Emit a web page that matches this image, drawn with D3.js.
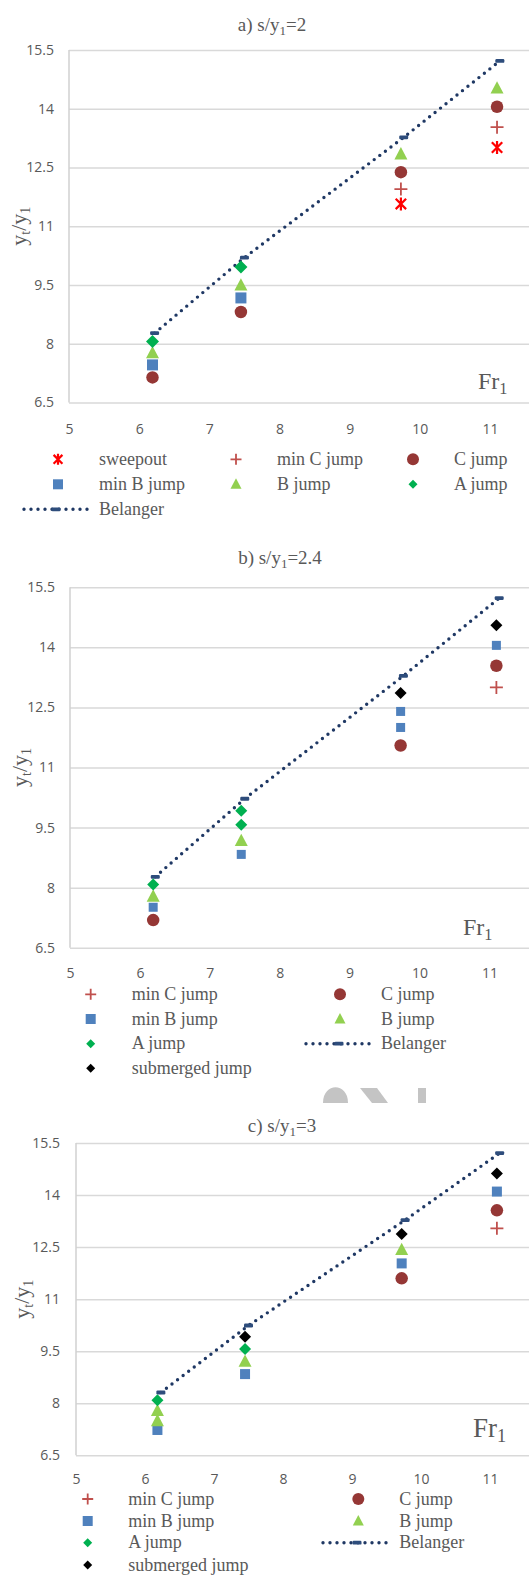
<!DOCTYPE html>
<html>
<head>
<meta charset="utf-8">
<script src="https://cdn.jsdelivr.net/npm/d3@7"></script>
<style>
	body { margin: 0; background: #fff; }
	svg { display: block; }
	.tick-label { font-family: "Open Sans", sans-serif; font-size: 14px; fill: #595959; }
	.serif { font-family: "Liberation Serif", "Times New Roman", serif; fill: #595959; }
</style>
</head>
<body>
<div id="chart"></div>
<script>
// Axis ticks shared by all three panels
const xTicks = [5, 6, 7, 8, 9, 10, 11];
const yTicks = [6.5, 8, 9.5, 11, 12.5, 14, 15.5];

// Panel a) s/y1=2   -- [Fr1, yt/y1]
const aSweepout = [[9.73, 11.57], [11.1, 13.01]];
const aMinC = [[9.73, 11.95], [11.1, 13.53]];
const aC = [[6.19, 7.14], [7.45, 8.81], [9.73, 12.38], [11.1, 14.05]];
const aMinB = [[6.19, 7.46], [7.45, 9.17]];
const aB = [[6.19, 7.76], [7.45, 9.49], [9.73, 12.84], [11.1, 14.52]];
const aA = [[6.19, 8.06], [7.45, 9.96]];
const aBelanger = [[6.22, 8.27], [7.5, 10.2], [9.77, 13.27], [11.14, 15.22]];

// Panel b) s/y1=2.4
const bMinC = [[11.1, 13.0]];
const bC = [[6.19, 7.19], [9.73, 11.55], [11.1, 13.54]];
const bMinB = [[6.19, 7.51], [7.45, 8.83], [9.73, 12.4], [9.73, 12.0], [11.1, 14.05]];
const bB = [[6.19, 7.78], [7.45, 9.17]];
const bA = [[6.19, 8.08], [7.45, 9.92], [7.45, 9.57]];
const bBelanger = [[6.22, 8.27], [7.5, 10.22], [9.77, 13.29], [11.14, 15.23]];
const bSubmerged = [[9.73, 12.86], [11.1, 14.55]];

// Panel c) s/y1=3
const cMinC = [[11.1, 13.04]];
const cC = [[9.72, 11.6], [11.1, 13.56]];
const cMinB = [[6.18, 7.23], [7.45, 8.84], [9.72, 12.03], [11.1, 14.1]];
const cB = [[6.18, 7.78], [6.18, 7.49], [7.45, 9.2], [9.72, 12.42]];
const cA = [[6.18, 8.09], [7.45, 9.56]];
const cBelanger = [[6.23, 8.31], [7.5, 10.24], [9.77, 13.28], [11.14, 15.21]];
const cSubmerged = [[7.45, 9.92], [9.72, 12.88], [11.1, 14.62]];

const W = 529, H = 1580;
const SERIF = '"Liberation Serif", "Times New Roman", serif';

const styles = {
	sweepout: {name: 'sweepout', color: '#ff0000', shape: 'star'},
	minC: {name: 'min C jump', color: '#c0504d', shape: 'plus'},
	C: {name: 'C jump', color: '#953735', shape: 'circle'},
	minB: {name: 'min B jump', color: '#4f81bd', shape: 'square'},
	B: {name: 'B jump', color: '#92d050', shape: 'triangle'},
	A: {name: 'A jump', color: '#00b050', shape: 'diamond'},
	belanger: {name: 'Belanger', color: '#1f3864', shape: 'dash'},
	submerged: {name: 'submerged jump', color: '#000000', shape: 'diamond'}
};

const panels = [
	{
		title: ['a) s/y', '1', '=2'],
		left: 69, top: 50, bottom: 402.5, xUnit: 70.17,
		titleX: 272, titleY: 31, yLabelX: 19, tickRight: 54, xLabelY: 430,
		frX: 478, frY: 389, frSize: 24, sq: 11, dia: 13,
		series: [
			['belanger', aBelanger], ['C', aC], ['minB', aMinB], ['B', aB],
			['A', aA], ['minC', aMinC], ['sweepout', aSweepout]
		],
		legend: {
			rows: [459.3, 484.3, 509.3],
			items: [
				['sweepout', 0, 0, 58, 99], ['minC', 0, 1, 236, 277], ['C', 0, 2, 413, 454],
				['minB', 1, 0, 58, 99], ['B', 1, 1, 236, 277], ['A', 1, 2, 413, 454],
				['belanger', 2, 0, 56, 99]
			],
			lineFrom: 24, lineTo: 89
		}
	},
	{
		title: ['b) s/y', '1', '=2.4'],
		left: 70, top: 587.3, bottom: 947.7, xUnit: 69.9,
		titleX: 280, titleY: 564, yLabelX: 20, tickRight: 55, xLabelY: 974,
		frX: 463, frY: 935, frSize: 24, sq: 9, dia: 12,
		series: [
			['belanger', bBelanger], ['C', bC], ['minB', bMinB], ['B', bB],
			['A', bA], ['minC', bMinC], ['submerged', bSubmerged]
		],
		legend: {
			rows: [994.3, 1019, 1043.7, 1068.3],
			items: [
				['minC', 0, 0, 90.7, 131.7], ['C', 0, 1, 340, 381],
				['minB', 1, 0, 90.7, 131.7], ['B', 1, 1, 340, 381],
				['A', 2, 0, 90.7, 131.7], ['belanger', 2, 1, 339, 381],
				['submerged', 3, 0, 90.7, 131.7]
			],
			lineFrom: 306, lineTo: 371.7
		}
	},
	{
		title: ['c) s/y', '1', '=3'],
		left: 76, top: 1143, bottom: 1455.3, xUnit: 69,
		titleX: 282, titleY: 1132, yLabelX: 22, tickRight: 60, xLabelY: 1480,
		frX: 473, frY: 1437, frSize: 27, sq: 10, dia: 12,
		series: [
			['belanger', cBelanger], ['C', cC], ['minB', cMinB], ['B', cB],
			['A', cA], ['minC', cMinC], ['submerged', cSubmerged]
		],
		legend: {
			rows: [1499, 1521, 1542.7, 1565],
			items: [
				['minC', 0, 0, 87.7, 128.3], ['C', 0, 1, 358.3, 399.3],
				['minB', 1, 0, 87.7, 128.3], ['B', 1, 1, 358.3, 399.3],
				['A', 2, 0, 87.7, 128.3], ['belanger', 2, 1, 357, 399.3],
				['submerged', 3, 0, 87.7, 128.3]
			],
			lineFrom: 323, lineTo: 390
		}
	}
];

// draw one marker shape centred on 0,0
function drawMarker(g, key, size) {
	const st = styles[key];
	const s = size;
	if (st.shape === 'circle') {
		g.append('circle').attr('r', s / 2).attr('fill', st.color);
	} else if (st.shape === 'square') {
		g.append('rect').attr('x', -s / 2).attr('y', -s / 2).attr('width', s).attr('height', s).attr('fill', st.color);
	} else if (st.shape === 'triangle') {
		g.append('path').attr('d', `M0,${-s * 0.55}L${s / 2},${s * 0.4}L${-s / 2},${s * 0.4}Z`).attr('fill', st.color);
	} else if (st.shape === 'diamond') {
		g.append('path').attr('d', `M0,${-s / 2}L${s / 2},0L0,${s / 2}L${-s / 2},0Z`).attr('fill', st.color);
	} else if (st.shape === 'plus') {
		g.append('path').attr('d', `M${-s / 2},0H${s / 2}M0,${-s / 2}V${s / 2}`)
			.attr('stroke', st.color).attr('stroke-width', 1.8).attr('fill', 'none');
	} else if (st.shape === 'star') {
		const h = s / 2;
		g.append('path').attr('d', `M${-h * 0.8},${-h * 0.8}L${h * 0.8},${h * 0.8}M${h * 0.8},${-h * 0.8}L${-h * 0.8},${h * 0.8}M0,${-h}V${h}`)
			.attr('stroke', st.color).attr('stroke-width', 2.2).attr('fill', 'none');
	} else if (st.shape === 'dash') {
		g.append('rect').attr('x', -4.5).attr('y', -1.9).attr('width', 9).attr('height', 3.8)
			.attr('rx', 1.2).attr('fill', '#2e4d7c');
	}
}

function markerSize(key, p) {
	if (key === 'minB') return p.sq;
	if (key === 'A' || key === 'submerged') return p.dia;
	if (key === 'C') return 12.5;
	return 13;
}

function legendSize(key, p) {
	if (key === 'minB') return 10;
	if (key === 'A' || key === 'submerged') return 9;
	if (key === 'C') return 12;
	return 11;
}

// dotted Belanger stroke
function dotted(sel) {
	sel.attr('fill', 'none')
		.attr('stroke', styles.belanger.color)
		.attr('stroke-width', 3.4)
		.attr('stroke-linecap', 'round')
		.attr('stroke-dasharray', '0 7');
}

const svg = d3.select('#chart').append('svg')
	.attr('width', W)
	.attr('height', H);

function drawPanel(p) {
	const x = d3.scaleLinear().domain([5, 12]).range([p.left, p.left + 7 * p.xUnit]);
	const y = d3.scaleLinear().domain([6.5, 15.5]).range([p.bottom, p.top]);
	const g = svg.append('g');

	// gridlines
	g.append('g')
		.attr('transform', `translate(${p.left},0)`)
		.call(d3.axisLeft(y).tickValues(yTicks).tickSize(-(W - p.left)).tickFormat(''))
		.call(s => s.select('.domain').remove())
		.call(s => s.selectAll('line').attr('stroke', '#d9d9d9').attr('stroke-width', 1.5));

	// left axis line
	g.append('line')
		.attr('x1', p.left).attr('x2', p.left)
		.attr('y1', y(15.5)).attr('y2', y(6.5))
		.attr('stroke', '#d0d0d0').attr('stroke-width', 1.5);

	// y tick labels
	g.append('g')
		.attr('transform', `translate(${p.tickRight},0)`)
		.call(d3.axisLeft(y).tickValues(yTicks).tickSize(0).tickPadding(0).tickFormat(d3.format('')))
		.call(s => s.select('.domain').remove())
		.call(s => s.selectAll('text').attr('class', 'tick-label').attr('font-size', null).attr('font-family', null));

	// x tick labels
	g.append('g')
		.attr('transform', `translate(0,${p.xLabelY})`)
		.call(d3.axisBottom(x).tickValues(xTicks).tickSize(0).tickPadding(0).tickFormat(d3.format('d')))
		.call(s => s.select('.domain').remove())
		.call(s => s.selectAll('text').attr('class', 'tick-label').attr('dy', '0.32em').attr('font-size', null).attr('font-family', null));

	// title
	const t = g.append('text').attr('class', 'serif').attr('x', p.titleX).attr('y', p.titleY)
		.attr('text-anchor', 'middle').style('font-family', SERIF).style('font-size', '19px');
	t.append('tspan').text(p.title[0]);
	t.append('tspan').attr('dy', 4).style('font-size', '13px').text(p.title[1]);
	t.append('tspan').attr('dy', -4).text(p.title[2]);

	// y label
	const cy = (p.top + p.bottom) / 2;
	const yl = g.append('text').attr('class', 'serif')
		.attr('transform', `translate(${p.yLabelX + 7},${cy}) rotate(-90)`)
		.attr('text-anchor', 'middle').style('font-family', SERIF).style('font-size', '22px');
	yl.append('tspan').text('y');
	yl.append('tspan').attr('dy', 4).style('font-size', '14px').text('t');
	yl.append('tspan').attr('dy', -4).text('/y');
	yl.append('tspan').attr('dy', 4).style('font-size', '14px').text('1');

	// Fr1 label
	const fr = g.append('text').attr('class', 'serif').attr('x', p.frX).attr('y', p.frY)
		.style('font-family', SERIF).style('font-size', p.frSize + 'px');
	fr.append('tspan').text('Fr');
	fr.append('tspan').attr('dy', 5).style('font-size', (p.frSize * 0.68) + 'px').text('1');

	// series
	p.series.forEach(([key, pts]) => {
		if (key === 'belanger') {
			g.append('path')
				.datum(pts)
				.attr('d', d3.line().x(d => x(d[0])).y(d => y(d[1])))
				.call(dotted);
		}
		g.selectAll(null)
			.data(pts)
			.enter()
			.append('g')
				.attr('transform', d => `translate(${x(d[0])},${y(d[1])})`)
				.each(function () { drawMarker(d3.select(this), key, markerSize(key, p)); });
	});

	// legend
	const L = p.legend;
	L.items.forEach(([key, row, col, sx, tx]) => {
		const ry = L.rows[row];
		if (key === 'belanger') {
			g.append('line')
				.attr('x1', L.lineFrom).attr('x2', L.lineTo)
				.attr('y1', ry).attr('y2', ry)
				.call(dotted);
			drawMarker(g.append('g').attr('transform', `translate(${sx},${ry})`), key, 9);
		} else {
			drawMarker(g.append('g').attr('transform', `translate(${sx},${ry})`), key, legendSize(key, p));
		}
		g.append('text').attr('class', 'serif')
			.attr('x', tx).attr('y', ry).attr('dy', '0.32em')
			.style('font-family', SERIF)
			.style('font-size', '18px')
			.text(styles[key].name);
	});
}

panels.forEach(drawPanel);

// grey watermark fragment between panels b and c
const wm = svg.append('g').attr('fill', '#c4c4c4');
wm.append('path').attr('d', 'M323,1103 C323,1082 348,1082 348,1103 Z');
wm.append('path').attr('d', 'M360,1088 L377,1088 L388,1103 L372,1103 Z');
wm.append('rect').attr('x', 418).attr('y', 1088).attr('width', 8).attr('height', 15);
</script>
</body>
</html>
